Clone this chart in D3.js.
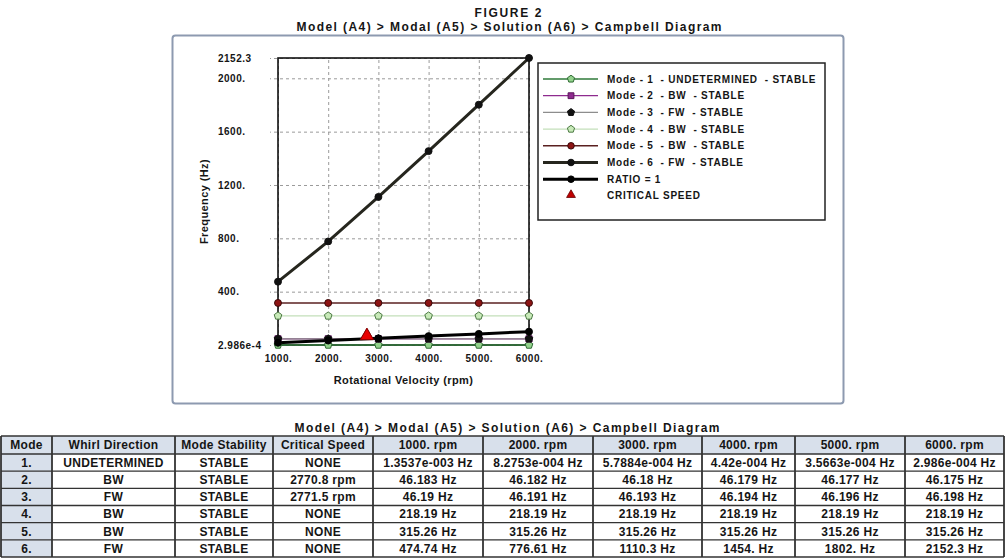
<!DOCTYPE html>
<html>
<head>
<meta charset="utf-8">
<script src="https://cdn.jsdelivr.net/npm/d3@7"></script>
<style>
  body { margin: 0; background: #fff; }
  svg text { font-family: "Liberation Sans", Arial, sans-serif; font-weight: bold; fill: #151515; }
</style>
</head>
<body>
<svg id="chart" width="1005" height="559"></svg>
<script>
// ---- values ----
const rpm = [1000, 2000, 3000, 4000, 5000, 6000];
const mode1Hz = [1.3537e-3, 8.2753e-4, 5.7884e-4, 4.42e-4, 3.5663e-4, 2.986e-4];
const mode2Hz = [46.183, 46.182, 46.18, 46.179, 46.177, 46.175];
const mode3Hz = [46.19, 46.191, 46.193, 46.194, 46.196, 46.198];
const mode4Hz = [218.19, 218.19, 218.19, 218.19, 218.19, 218.19];
const mode5Hz = [315.26, 315.26, 315.26, 315.26, 315.26, 315.26];
const mode6Hz = [474.74, 776.61, 1110.3, 1454, 1802, 2152.3];
const ratioHz = [16.667, 33.333, 50, 66.667, 83.333, 100];
const critRpm = [2770.8, 2771.5];
const critHz = [46.18, 46.193];

const legendLabels = [
  "Mode - 1  - UNDETERMINED  - STABLE",
  "Mode - 2  - BW  - STABLE",
  "Mode - 3  - FW  - STABLE",
  "Mode - 4  - BW  - STABLE",
  "Mode - 5  - BW  - STABLE",
  "Mode - 6  - FW  - STABLE",
  "RATIO = 1",
  "CRITICAL SPEED"
];

const yTicks = [2.986e-4, 400, 800, 1200, 1600, 2000, 2152.3];
const yTickLabels = ["2.986e-4", "400.", "800.", "1200.", "1600.", "2000.", "2152.3"];
const xTickLabels = ["1000.", "2000.", "3000.", "4000.", "5000.", "6000."];

// table columns
const tableHeaders = ["Mode", "Whirl Direction", "Mode Stability", "Critical Speed",
  "1000. rpm", "2000. rpm", "3000. rpm", "4000. rpm", "5000. rpm", "6000. rpm"];
const modeNums = ["1.", "2.", "3.", "4.", "5.", "6."];
const whirlDir = ["UNDETERMINED", "BW", "FW", "BW", "BW", "FW"];
const stability = ["STABLE", "STABLE", "STABLE", "STABLE", "STABLE", "STABLE"];
const critSpeed = ["NONE", "2770.8 rpm", "2771.5 rpm", "NONE", "NONE", "NONE"];

const title = "FIGURE 2";
const subtitle = "Model (A4) > Modal (A5) > Solution (A6) > Campbell Diagram";

// ---- drawing ----
const svg = d3.select("#chart");

// pentagon marker
const symPentagon = {
  draw(ctx, size) {
    const r = Math.sqrt(size / 2.38);
    for (let i = 0; i < 5; i++) {
      const a = -Math.PI / 2 + i * 2 * Math.PI / 5;
      if (i === 0) ctx.moveTo(r * Math.cos(a), r * Math.sin(a));
      else ctx.lineTo(r * Math.cos(a), r * Math.sin(a));
    }
    ctx.closePath();
  }
};

const series = [
  { values: mode1Hz, stroke: "#2f7a3a", w: 1.3, sym: symPentagon, fill: "#93d28c", ms: "#2e6a32" },
  { values: mode2Hz, stroke: "#8e2b8e", w: 1.3, sym: d3.symbolSquare, fill: "#8e2b8e", ms: "#5a165a" },
  { values: mode3Hz, stroke: "#8d8d8d", w: 1.3, sym: symPentagon, fill: "#111", ms: "#111" },
  { values: mode4Hz, stroke: "#c3dfba", w: 1.3, sym: symPentagon, fill: "#c8eab9", ms: "#4c7a43" },
  { values: mode5Hz, stroke: "#5a2020", w: 1.4, sym: d3.symbolCircle, fill: "#8d1414", ms: "#3a0a0a" },
  { values: mode6Hz, stroke: "#26261e", w: 3, sym: d3.symbolCircle, fill: "#111", ms: "#111" },
  { values: ratioHz, stroke: "#000", w: 3, sym: d3.symbolCircle, fill: "#000", ms: "#000" }
];

// outer frame of the figure
svg.append("rect")
  .attr("x", 172.5).attr("y", 35.5).attr("width", 671).attr("height", 368)
  .attr("rx", 3).attr("fill", "#fff").attr("stroke", "#8d9ab0").attr("stroke-width", 2);

svg.append("text").attr("x", 508).attr("y", 17).attr("text-anchor", "middle")
  .style("font-size", "12px").attr("textLength", 67).attr("lengthAdjust", "spacing").text(title);
svg.append("text").attr("x", 509).attr("y", 31).attr("text-anchor", "middle")
  .style("font-size", "12px").attr("textLength", 425).attr("lengthAdjust", "spacing").text(subtitle);

const plotL = 278, plotR = 529, plotT = 58, plotB = 345;
const x = d3.scaleLinear().domain([1000, 6000]).range([plotL, plotR]);
const y = d3.scaleLinear().domain([yTicks[0], yTicks[yTicks.length - 1]]).range([plotB, plotT]);

// horizontal grid + y labels
const yAxis = svg.append("g")
  .attr("transform", `translate(${plotR},0)`)
  .call(d3.axisLeft(y).tickValues(yTicks).tickSize(plotR - plotL + 8)
    .tickFormat((d, i) => yTickLabels[i]));
yAxis.select(".domain").remove();
yAxis.selectAll("line").attr("stroke", "#9a9a9a").attr("stroke-dasharray", "3,3");
yAxis.selectAll("text").attr("x", 218 - plotR).attr("text-anchor", "start")
  .style("font-size", "10px").style("letter-spacing", "0.5px");

// vertical grid + x labels
const xAxis = svg.append("g")
  .attr("transform", `translate(0,${plotB})`)
  .call(d3.axisBottom(x).tickValues(rpm).tickSize(-(plotB - plotT)).tickPadding(10)
    .tickFormat((d, i) => xTickLabels[i]));
xAxis.select(".domain").remove();
xAxis.selectAll("line").attr("stroke", "#9a9a9a").attr("stroke-dasharray", "3,3");
xAxis.selectAll("text").style("font-size", "10px").style("letter-spacing", "0.5px");

// plot border
svg.append("rect").attr("x", plotL).attr("y", plotT)
  .attr("width", plotR - plotL).attr("height", plotB - plotT)
  .attr("fill", "none").attr("stroke", "#111").attr("stroke-width", 1.6);

svg.append("text").attr("x", (plotL + plotR) / 2).attr("y", 384).attr("text-anchor", "middle")
  .style("font-size", "11px").style("letter-spacing", "0.4px").text("Rotational Velocity (rpm)");
svg.append("text").attr("transform", `translate(208,${(plotT + plotB) / 2}) rotate(-90)`)
  .attr("text-anchor", "middle").style("font-size", "11px").style("letter-spacing", "0.4px")
  .text("Frequency (Hz)");

// series
const line = d3.line().x((d, i) => x(rpm[i])).y(d => y(d));
const gSeries = svg.append("g");
series.forEach(s => {
  gSeries.append("path").datum(s.values).attr("d", line)
    .attr("fill", "none").attr("stroke", s.stroke).attr("stroke-width", s.w);
});
series.forEach(s => {
  gSeries.selectAll(null).data(s.values).enter().append("path")
    .attr("transform", (d, i) => `translate(${x(rpm[i])},${y(d)})`)
    .attr("d", d3.symbol().type(s.sym).size(38))
    .attr("fill", s.fill).attr("stroke", s.ms).attr("stroke-width", 1);
});
gSeries.selectAll(null).data(critRpm).enter().append("path")
  .attr("transform", (d, i) => `translate(${x(d)},${y(critHz[i]) - 3})`)
  .attr("d", d3.symbol().type(d3.symbolTriangle).size(75))
  .attr("fill", "#e80000").attr("stroke", "#7a0000").attr("stroke-width", 0.8);

// legend
const legend = svg.append("g");
legend.append("rect").attr("x", 538).attr("y", 63).attr("width", 287).attr("height", 157)
  .attr("fill", "#fff").attr("stroke", "#222").attr("stroke-width", 1.5);
legendLabels.forEach((lab, i) => {
  const ly = 79 + i * 16.7;
  const s = series[i];
  if (s) {
    legend.append("line").attr("x1", 543).attr("x2", 598).attr("y1", ly).attr("y2", ly)
      .attr("stroke", s.stroke).attr("stroke-width", s.w);
    legend.append("path").attr("transform", `translate(571,${ly})`)
      .attr("d", d3.symbol().type(s.sym).size(34))
      .attr("fill", s.fill).attr("stroke", s.ms).attr("stroke-width", 1);
  } else {
    legend.append("path").attr("transform", `translate(571,${ly - 1})`)
      .attr("d", d3.symbol().type(d3.symbolTriangle).size(34))
      .attr("fill", "#c00000").attr("stroke", "#600").attr("stroke-width", 0.8);
  }
  legend.append("text").attr("x", 607).attr("y", ly + 3.5)
    .style("font-size", "10px").style("letter-spacing", "0.75px")
    .style("white-space", "pre").attr("xml:space", "preserve").text(lab);
});

// ---- table ----
function fmtHz(v) {
  if (v < 0.01) {
    let [m, e] = v.toExponential(4).split("e");
    m = m.replace(/0+$/, "").replace(/\.$/, "");
    const sign = e[0] === "-" ? "-" : "+";
    const ex = String(Math.abs(+e)).padStart(3, "0");
    return `${m}e${sign}${ex} Hz`;
  }
  let s = v.toPrecision(5);
  if (s.includes(".")) s = s.replace(/0+$/, "");
  return `${s} Hz`;
}
const freqRows = [mode1Hz, mode2Hz, mode3Hz, mode4Hz, mode5Hz, mode6Hz];
const rows = modeNums.map((m, i) =>
  [m, whirlDir[i], stability[i], critSpeed[i]].concat(freqRows[i].map(fmtHz)));

svg.append("text").attr("x", 507).attr("y", 432).attr("text-anchor", "middle")
  .style("font-size", "12px").attr("textLength", 425).attr("lengthAdjust", "spacing").text(subtitle);

const colEdges = [1, 52, 175, 273, 373, 483, 593, 702, 795, 905, 1004];
const rowEdges = [436, 454].concat(d3.range(1, 7).map(i => 454 + i * (103 / 6)));
const table = svg.append("g");
const allRows = [tableHeaders].concat(rows);
allRows.forEach((r, ri) => {
  r.forEach((cell, ci) => {
    const x0 = colEdges[ci], x1 = colEdges[ci + 1];
    const y0 = rowEdges[ri], y1 = rowEdges[ri + 1];
    const shaded = ri === 0 || ci === 0;
    table.append("rect").attr("x", x0).attr("y", y0).attr("width", x1 - x0).attr("height", y1 - y0)
      .attr("fill", shaded ? "#d8e0eb" : "#fff");
    table.append("text").attr("x", (x0 + x1) / 2).attr("y", (y0 + y1) / 2 + 4.3)
      .attr("text-anchor", "middle").style("font-size", "12px").style("letter-spacing", "0.3px")
      .text(cell);
  });
});
// grid lines of the table
rowEdges.forEach(ry => {
  table.append("line").attr("x1", colEdges[0]).attr("x2", colEdges[colEdges.length - 1])
    .attr("y1", ry).attr("y2", ry).attr("stroke", "#333").attr("stroke-width", 1.4);
});
colEdges.forEach(cx => {
  table.append("line").attr("x1", cx).attr("x2", cx)
    .attr("y1", rowEdges[0]).attr("y2", rowEdges[rowEdges.length - 1])
    .attr("stroke", "#333").attr("stroke-width", 1.8);
});
</script>
</body>
</html>
